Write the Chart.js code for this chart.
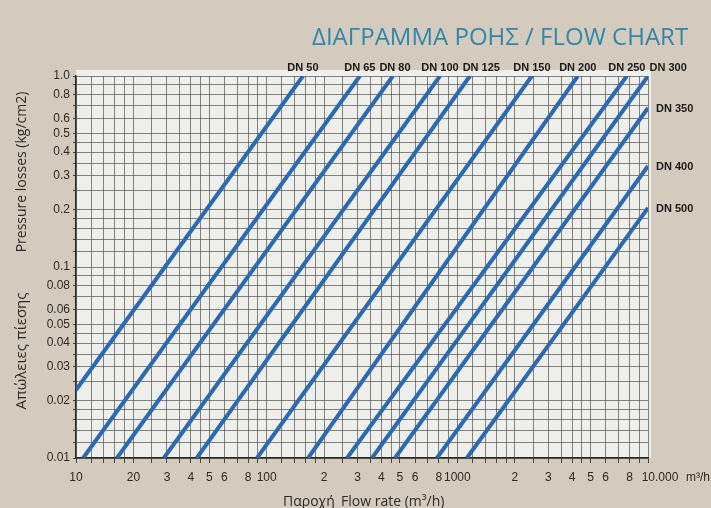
<!DOCTYPE html>
<html>
<head>
<meta charset="utf-8">
<script src="https://cdn.jsdelivr.net/npm/chart.js@4.4.1/dist/chart.umd.min.js"></script>
<style>
  html, body { margin: 0; padding: 0; background: #d4cabd; }
  canvas { display: block; }
</style>
</head>
<body>
<canvas id="flowChart" width="711" height="508"></canvas>
<script>
// Flow chart data (straight lines on log-log paper)
const pipeSizes = ['DN 50', 'DN 65', 'DN 80', 'DN 100', 'DN 125', 'DN 150', 'DN 200', 'DN 250', 'DN 300', 'DN 350', 'DN 400', 'DN 500'];
const flowStart = [10, 10.9, 16.4, 28.9, 43, 89, 165, 264, 357, 471, 782, 1122];       // m3/h
const lossStart = [0.0227, 0.01, 0.01, 0.01, 0.01, 0.01, 0.01, 0.01, 0.01, 0.01, 0.01, 0.01]; // kg/cm2
const flowEnd = [155, 308, 459, 811, 1164, 2460, 4285, 7745, 10000, 10000, 10000, 10000];
const lossEnd = [1, 1, 1, 1, 1, 1, 1, 1, 1, 0.68, 0.338, 0.204];

// tick labels
const xTickValues = [10, 20, 30, 40, 50, 60, 80, 100, 200, 300, 400, 500, 600, 800, 1000, 2000, 3000, 4000, 5000, 6000, 8000, 10000];
const xTickLabels = ['10', '20', '3', '4', '5', '6', '8', '100', '2', '3', '4', '5', '6', '8', '1000', '2', '3', '4', '5', '6', '8', '10.000'];
const yTickValues = [1, 0.8, 0.6, 0.5, 0.4, 0.3, 0.2, 0.1, 0.08, 0.06, 0.05, 0.04, 0.03, 0.02, 0.01];
const yTickLabels = ['1.0', '0.8', '0.6', '0.5', '0.4', '0.3', '0.2', '0.1', '0.08', '0.06', '0.05', '0.04', '0.03', '0.02', '0.01'];

// grid paper subdivisions inside each decade
const gridSteps = [1, 1.2, 1.4, 1.6, 1.8, 2, 2.5, 3, 3.5, 4, 4.5, 5, 6, 7, 8, 9];

const lineBlue = '#2c69b3';
const gridColor = 'rgba(70,70,70,0.65)';
const tickFont = "'Liberation Sans Narrow', 'Liberation Sans', Arial, sans-serif";

function gridValues(min, max) {
    var out = [];
    for (var d = min; d < max * 0.999; d *= 10) {
        gridSteps.forEach(function (s) { out.push(+(s * d).toPrecision(4)); });
    }
    out.push(max);
    return out;
}

function labelFor(values, labels, v) {
    for (var i = 0; i < values.length; i++) {
        if (Math.abs(values[i] - v) / values[i] < 1e-6) return labels[i];
    }
    return '';
}

var datasets = pipeSizes.map(function (name, i) {
    return {
        label: name,
        data: [{ x: flowStart[i], y: lossStart[i] }, { x: flowEnd[i], y: lossEnd[i] }],
        showLine: true,
        borderColor: lineBlue,
        borderWidth: 4,
        pointRadius: 0,
        borderCapStyle: 'butt'
    };
});

// paper background + plot area
var paperPlugin = {
    id: 'paper',
    beforeDraw: function (chart) {
        var c = chart.ctx, a = chart.chartArea;
        c.save();
        c.fillStyle = '#d4cabd';
        c.fillRect(0, 0, chart.width, chart.height);
        c.fillStyle = '#eeefeb';
        c.fillRect(a.left, a.top - 6, a.right - a.left + 3, a.bottom - a.top + 6);
        c.restore();
    }
};

// titles and DN labels
var textPlugin = {
    id: 'texts',
    afterDatasetsDraw: function (chart) {
        var c = chart.ctx, a = chart.chartArea;
        c.save();
        // main title
        c.fillStyle = '#2f88aa';
        c.font = "24px 'Open Sans', sans-serif";
        c.textAlign = 'left';
        c.textBaseline = 'alphabetic';
        c.fillText('ΔΙΑΓΡΑΜΜΑ ΡΟΗΣ / FLOW CHART', 312, 45);

        // DN labels
        var prevRight = -1e9;
        chart.data.datasets.forEach(function (ds, i) {
            var pt = chart.getDatasetMeta(i).data[1];
            c.fillStyle = '#1a1a1a';
            c.font = "bold 11px " + tickFont;
            if (pt.y <= a.top + 1) {
                var w = c.measureText(ds.label).width;
                var cx = Math.max(pt.x, prevRight + 4 + w / 2);
                c.textAlign = 'center';
                c.textBaseline = 'alphabetic';
                c.fillText(ds.label, cx, a.top - 5);
                prevRight = cx + w / 2;
            } else {
                c.textAlign = 'left';
                c.textBaseline = 'middle';
                c.fillText(ds.label, a.right + 8, pt.y + 1);
            }
        });

        // last x tick label sits to the right of its grid line
        var xs = chart.scales.x;
        c.fillStyle = '#2a2a2a';
        c.font = "12px " + tickFont;
        c.textAlign = 'center';
        c.textBaseline = 'middle';
        c.fillText(xTickLabels[xTickLabels.length - 1], xs.getPixelForValue(xTickValues[xTickValues.length - 1]) + 12, 478);
        c.textAlign = 'left';
        c.fillText('m³/h', 686, 478);

        // axis titles
        c.fillStyle = '#2b2b2b';
        c.font = "14px 'Open Sans', sans-serif";
        c.textBaseline = 'middle';
        c.save();
        c.translate(22, 0);
        c.rotate(-Math.PI / 2);
        c.textAlign = 'center';
        c.fillText('Pressure losses (kg/cm2)', -172, 0);
        c.font = "15px 'Open Sans', sans-serif";
        c.fillText('Απώλειες πίεσης', -351, 0);
        c.restore();

        c.textAlign = 'left';
        c.textBaseline = 'alphabetic';
        c.fillText('Παροχή', 283, 506);
        c.fillText('Flow rate (m³/h)', 341, 506);
        c.restore();
    }
};

new Chart(document.getElementById('flowChart'), {
    type: 'scatter',
    data: { datasets: datasets },
    options: {
        responsive: false,
        animation: false,
        layout: { padding: { left: 0, top: 76, right: 63, bottom: 0 } },
        plugins: { legend: { display: false }, tooltip: { enabled: false } },
        scales: {
            x: {
                type: 'logarithmic',
                min: 10,
                max: 10000,
                afterFit: function (scale) { scale.height = 50; },
                afterBuildTicks: function (scale) {
                    scale.ticks = gridValues(10, 10000).map(function (v) { return { value: v }; });
                },
                grid: { color: gridColor, lineWidth: 1, tickLength: 5, tickColor: '#444' },
                border: { display: true, color: '#2a2a2a', width: 1.5 },
                ticks: {
                    autoSkip: false,
                    maxRotation: 0,
                    padding: 7,
                    color: '#2a2a2a',
                    font: { family: tickFont, size: 12 },
                    callback: function (v) {
                        if (v === xTickValues[xTickValues.length - 1]) return '';
                        return labelFor(xTickValues, xTickLabels, v);
                    }
                }
            },
            y: {
                type: 'logarithmic',
                min: 0.01,
                max: 1,
                afterFit: function (scale) { scale.width = 76; },
                afterBuildTicks: function (scale) {
                    scale.ticks = gridValues(0.01, 1).map(function (v) { return { value: v }; });
                },
                grid: { color: gridColor, lineWidth: 1, tickLength: 3, tickColor: '#444' },
                border: { display: true, color: '#2a2a2a', width: 1.5 },
                ticks: {
                    autoSkip: false,
                    padding: 3,
                    color: '#2a2a2a',
                    font: { family: tickFont, size: 12 },
                    callback: function (v) { return labelFor(yTickValues, yTickLabels, v); }
                }
            }
        }
    },
    plugins: [paperPlugin, textPlugin]
});
</script>
</body>
</html>
